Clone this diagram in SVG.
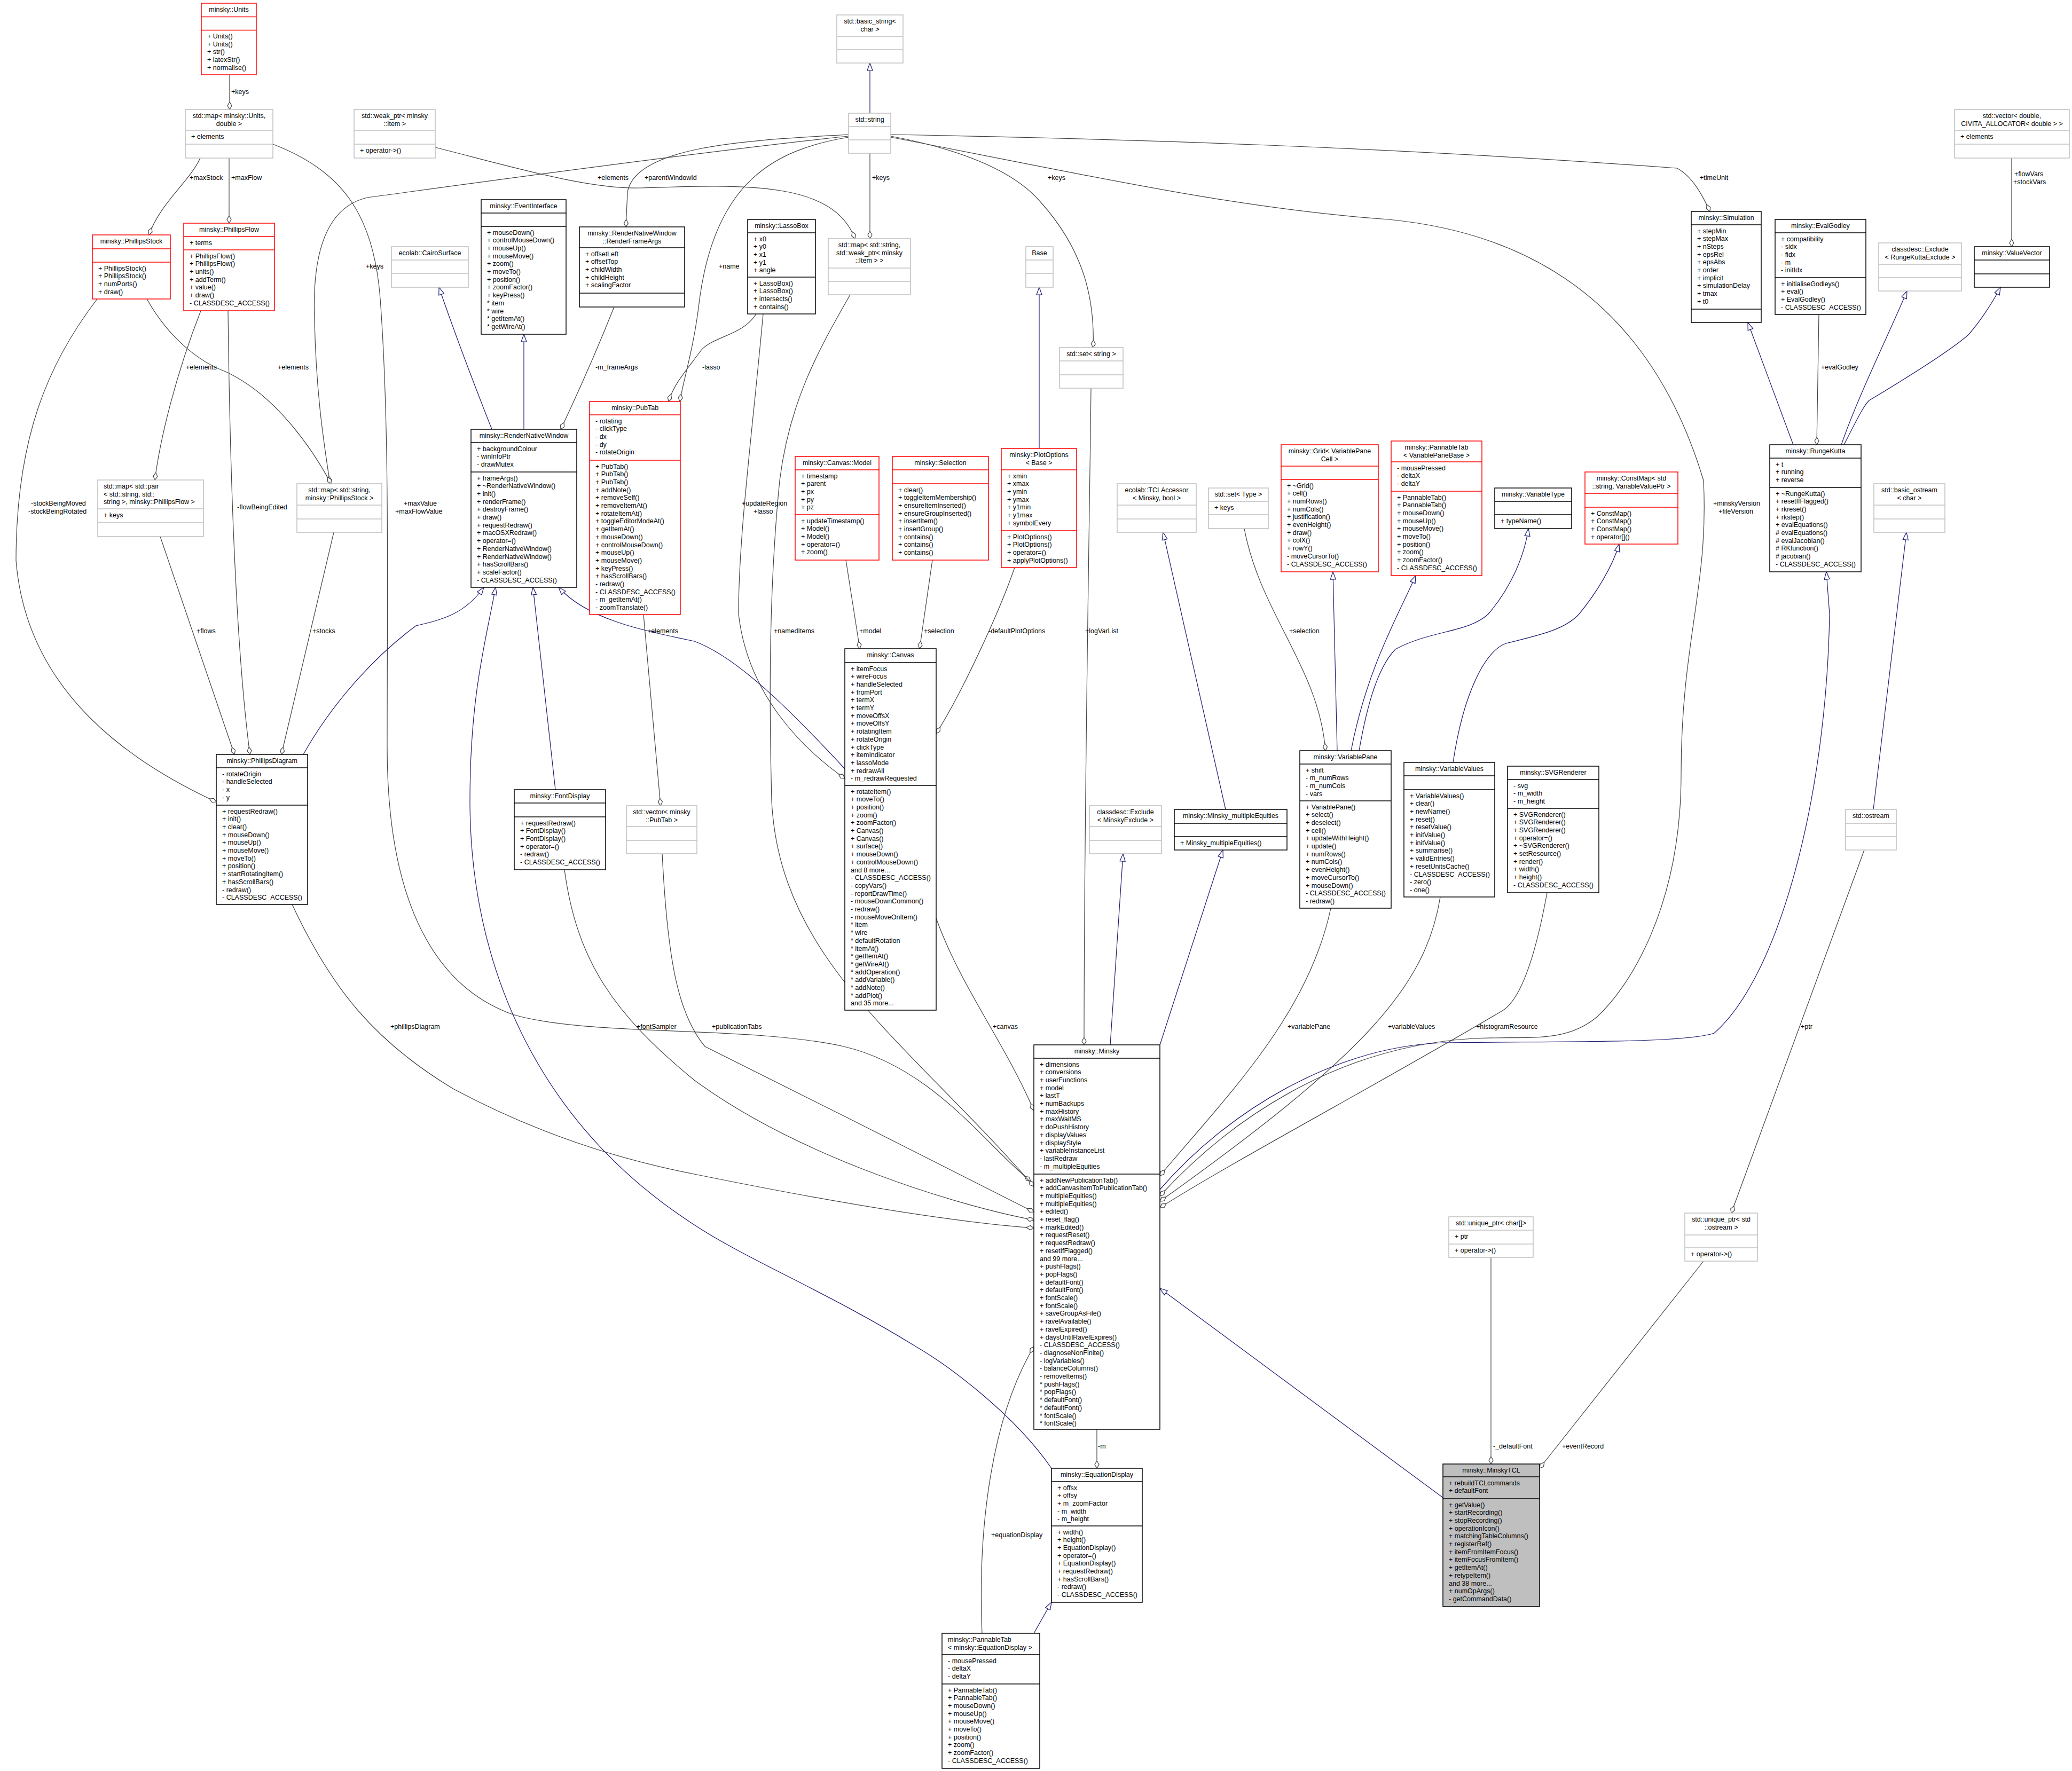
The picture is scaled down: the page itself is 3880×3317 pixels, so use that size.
<svg xmlns="http://www.w3.org/2000/svg" width="3880" height="3317" viewBox="0 0 3880 3317">
<style>
text{font-family:"Liberation Sans",Arial,sans-serif;font-size:12.5px;fill:#000}
.t{text-anchor:middle}
.k rect{fill:#fff;stroke:#000;stroke-width:1.5}
.k line{stroke:#000;stroke-width:1.5}
.r rect,.r line{stroke:#f00}
.g rect,.g line{stroke:#bfbfbf}
.a{fill:none;stroke:#404040;stroke-width:1.2;marker-end:url(#d)}
.i{fill:none;stroke:#191970;stroke-width:1.2;marker-end:url(#t)}
</style>
<defs>
<marker id="d" markerUnits="userSpaceOnUse" markerWidth="16" markerHeight="10" refX="14.5" refY="5" orient="auto"><path d="M0.5,5 L7.5,1 L14.5,5 L7.5,9 z" fill="#fff" stroke="#404040" stroke-width="1.2"/></marker>
<marker id="t" markerUnits="userSpaceOnUse" markerWidth="16" markerHeight="12" refX="15" refY="6" orient="auto"><path d="M1,1 L15,6 L1,11 z" fill="#fff" stroke="#191970" stroke-width="1.2"/></marker>
</defs>
<rect width="3880" height="3317" fill="#fff"/>
<g id="connectors">
<path class="a" d="M430,140 L430,205"/>
<path class="a" d="M375,296 C355,340 300,380 279,440"/>
<path class="a" d="M429,296 L429,418"/>
<path class="a" d="M511,270 C640,320 700,400 712,560 C730,800 725,1100 725,1400 C725,1700 820,1850 960,1900 C1100,1942 1400,1920 1580,1960 C1750,2000 1850,2150 1930,2212"/>
<path class="a" d="M815,276 C950,310 1100,355 1200,352 C1400,345 1560,340 1601,447"/>
<path class="a" d="M1629,287 L1629,447"/>
<path class="a" d="M1589,257 C1450,280 1340,340 1310,560 C1300,650 1280,710 1273,752"/>
<path class="a" d="M1416,588 C1390,630 1330,630 1310,660 C1280,700 1262,720 1252,752"/>
<path class="a" d="M1589,252 C1420,262 1190,270 1175,360 L1172,425"/>
<path class="a" d="M1589,255 C1300,285 800,355 688,370 C600,390 585,500 589,600 C592,750 610,850 618,906"/>
<path class="a" d="M1668,255 C1800,280 1900,320 1950,380 C2030,470 2050,560 2047,651"/>
<path class="a" d="M1668,252 C2100,260 2600,275 3140,315 C3170,330 3190,370 3202,396"/>
<path class="a" d="M1668,257 C2000,320 2300,390 2600,411 C2900,440 3100,600 3190,900 C3200,1100 3148,1200 3148,1450 C3148,1700 3050,1850 2990,1905 C2930,1955 2860,1940 2760,1945 C2500,1960 2300,2100 2172,2240"/>
<path class="a" d="M2043,727 C2040,1000 2030,1500 2030,1957"/>
<path class="a" d="M1429,588 C1410,800 1383,1000 1383,1150 C1400,1300 1500,1400 1582,1458"/>
<path class="a" d="M1592,552 C1530,660 1478,755 1460,900 C1440,1100 1440,1300 1445,1500 C1460,1800 1700,1950 1936,2222"/>
<path class="a" d="M1584,1049 L1610,1215"/>
<path class="a" d="M1746,1049 L1722,1215"/>
<path class="a" d="M1900,1063 C1870,1150 1800,1300 1753,1374"/>
<path class="a" d="M1753,1720 C1800,1850 1880,1950 1936,2080"/>
<path class="a" d="M2330,990 C2360,1150 2470,1250 2482,1406"/>
<path class="a" d="M2492,1701 C2450,1900 2300,2050 2172,2202"/>
<path class="a" d="M2697,1680 C2670,1850 2550,1980 2172,2250"/>
<path class="a" d="M2897,1672 C2870,1820 2840,1880 2810,1895 C2600,2020 2300,2180 2172,2262"/>
<path class="a" d="M3406,589 L3402,833"/>
<path class="a" d="M3767,296 L3767,462"/>
<path class="a" d="M3491,1592 L3242,2272"/>
<path class="a" d="M2792,2355 L2792,2742"/>
<path class="a" d="M3190,2362 L2883,2750"/>
<path class="a" d="M2054,2677 L2054,2750"/>
<path class="a" d="M1839,3059 C1830,2850 1860,2650 1936,2522"/>
<path class="a" d="M547,1694 C620,1850 700,1950 850,2040 C1000,2120 1150,2170 1300,2199 C1600,2260 1800,2290 1936,2300"/>
<path class="a" d="M1057,1629 C1080,1800 1150,1900 1300,2023 C1500,2170 1800,2260 1936,2285"/>
<path class="a" d="M1240,1599 C1250,1800 1270,1900 1320,1960 C1500,2050 1800,2200 1936,2270"/>
<path class="a" d="M1205,1151 L1237,1509"/>
<path class="a" d="M300,1005 L439,1413"/>
<path class="a" d="M625,997 L527,1413"/>
<path class="a" d="M376,582 C330,700 300,820 290,899"/>
<path class="a" d="M275,560 C320,640 380,680 420,695 C520,740 590,850 620,906"/>
<path class="a" d="M182,560 C90,680 30,820 30,1050 C50,1300 250,1430 405,1502"/>
<path class="a" d="M427,582 C430,850 440,1200 468,1413"/>
<path class="a" d="M1150,575 C1120,650 1090,720 1050,804"/>
<path class="i" d="M1629,212 L1629,118"/>
<path class="i" d="M921,804 C880,700 850,620 822,538"/>
<path class="i" d="M981,804 L981,626"/>
<path class="i" d="M568,1413 C620,1320 700,1230 779,1172 C830,1160 870,1150 906,1100"/>
<path class="i" d="M1040,1479 L998,1100"/>
<path class="i" d="M1582,1440 C1480,1330 1380,1230 1300,1201 C1200,1180 1100,1160 1046,1100"/>
<path class="i" d="M1969,2750 C1900,2650 1780,2560 1715,2522 C1550,2420 1400,2360 1300,2294 C1000,2100 880,1800 880,1500 C880,1300 910,1200 928,1100"/>
<path class="i" d="M1946,840 L1946,538"/>
<path class="i" d="M2295,1516 L2178,997"/>
<path class="i" d="M2504,1406 L2496,1071"/>
<path class="i" d="M2530,1406 C2560,1250 2620,1150 2651,1078"/>
<path class="i" d="M2545,1406 C2560,1320 2580,1250 2613,1216 C2680,1180 2750,1185 2787,1150 C2830,1100 2855,1040 2862,990"/>
<path class="i" d="M2721,1428 C2740,1300 2780,1220 2820,1205 C2880,1190 2930,1180 2957,1150 C2990,1110 3020,1060 3032,1019"/>
<path class="i" d="M3358,833 L3273,604"/>
<path class="i" d="M3448,833 C3480,740 3540,620 3571,545"/>
<path class="i" d="M3453,833 C3480,780 3490,760 3500,750 C3600,690 3660,650 3686,627 C3710,600 3735,560 3746,538"/>
<path class="i" d="M2079,1957 L2103,1599"/>
<path class="i" d="M2172,1957 L2290,1592"/>
<path class="i" d="M2172,2228 C2300,2080 2500,1960 2704,1953 C2900,1950 3150,1955 3210,1935 C3330,1830 3420,1500 3426,1150 L3420,1071"/>
<path class="i" d="M3508,1516 L3570,997"/>
<path class="i" d="M2702,2805 L2172,2413"/>
<path class="i" d="M1936,3059 L1969,3001"/>
<text x="433" y="176">+keys</text>
<text x="355" y="337">+maxStock</text>
<text x="433" y="337">+maxFlow</text>
<text x="1119" y="337">+elements</text>
<text x="1207" y="337">+parentWindowId</text>
<text x="685" y="503">+keys</text>
<text x="348" y="692">+elements</text>
<text x="520" y="692">+elements</text>
<text x="1115" y="692">-m_frameArgs</text>
<text x="58" y="947">-stockBeingMoved</text>
<text x="53" y="962">-stockBeingRotated</text>
<text x="444" y="954">-flowBeingEdited</text>
<text x="756" y="947">+maxValue</text>
<text x="740" y="962">+maxFlowValue</text>
<text x="1346" y="503">+name</text>
<text x="1315" y="692">-lasso</text>
<text x="1633" y="337">+keys</text>
<text x="1962" y="337">+keys</text>
<text x="1389" y="947">+updateRegion</text>
<text x="1411" y="962">+lasso</text>
<text x="3183" y="337">+timeUnit</text>
<text x="3772" y="330">+flowVars</text>
<text x="3770" y="345">+stockVars</text>
<text x="3410" y="692">+evalGodley</text>
<text x="3208" y="947">+minskyVersion</text>
<text x="3218" y="962">+fileVersion</text>
<text x="368" y="1186">+flows</text>
<text x="585" y="1186">+stocks</text>
<text x="1212" y="1186">+elements</text>
<text x="731" y="1927">+phillipsDiagram</text>
<text x="1192" y="1927">+fontSampler</text>
<text x="1449" y="1186">+namedItems</text>
<text x="1609" y="1186">+model</text>
<text x="1730" y="1186">+selection</text>
<text x="1851" y="1186">-defaultPlotOptions</text>
<text x="2032" y="1186">+logVarList</text>
<text x="2414" y="1186">+selection</text>
<text x="1333" y="1927">+publicationTabs</text>
<text x="1859" y="1927">+canvas</text>
<text x="2411" y="1927">+variablePane</text>
<text x="2599" y="1927">+variableValues</text>
<text x="2764" y="1927">+histogramResource</text>
<text x="3372" y="1927">+ptr</text>
<text x="2796" y="2713">-_defaultFont</text>
<text x="2925" y="2713">+eventRecord</text>
<text x="2056" y="2713">-m</text>
<text x="1856" y="2879">+equationDisplay</text>
</g>

<g id="units" class="k r"><rect x="377" y="6" width="103" height="134"/><line x1="377" y1="31.5" x2="480" y2="31.5"/><line x1="377" y1="56.5" x2="480" y2="56.5"/>
<text class="t" x="428.5" y="22">minsky::Units</text>
<text x="388" y="72"><tspan x="388">+ Units()</tspan><tspan x="388" dy="14.7">+ Units()</tspan><tspan x="388" dy="14.7">+ str()</tspan><tspan x="388" dy="14.7">+ latexStr()</tspan><tspan x="388" dy="14.7">+ normalise()</tspan></text></g>

<g id="mapUnits" class="k g"><rect x="347" y="205" width="164" height="91"/><line x1="347" y1="244" x2="511" y2="244"/><line x1="347" y1="270" x2="511" y2="270"/>
<text class="t" x="429" y="221"><tspan x="429">std::map&lt; minsky::Units,</tspan><tspan x="429" dy="14.7">double &gt;</tspan></text>
<text x="358" y="259.5">+ elements</text></g>

<g id="weakptr" class="k g"><rect x="663" y="205" width="152" height="91"/><line x1="663" y1="244" x2="815" y2="244"/><line x1="663" y1="270" x2="815" y2="270"/>
<text class="t" x="739" y="221"><tspan x="739">std::weak_ptr&lt; minsky</tspan><tspan x="739" dy="14.7">::Item &gt;</tspan></text>
<text x="674" y="285.5">+ operator-&gt;()</text></g>

<g id="basicstring" class="k g"><rect x="1567" y="28" width="124" height="90"/><line x1="1567" y1="68" x2="1691" y2="68"/><line x1="1567" y1="93" x2="1691" y2="93"/>
<text class="t" x="1629" y="44"><tspan x="1629">std::basic_string&lt;</tspan><tspan x="1629" dy="14.7">char &gt;</tspan></text></g>

<g id="string" class="k g"><rect x="1589" y="212" width="79" height="75"/><line x1="1589" y1="237" x2="1668" y2="237"/><line x1="1589" y1="262" x2="1668" y2="262"/>
<text class="t" x="1628.5" y="228">std::string</text></g>

<g id="vecdouble" class="k g"><rect x="3660" y="205" width="215" height="91"/><line x1="3660" y1="244" x2="3875" y2="244"/><line x1="3660" y1="270" x2="3875" y2="270"/>
<text class="t" x="3767.5" y="221"><tspan x="3767.5">std::vector&lt; double,</tspan><tspan x="3767.5" dy="14.7">CIVITA_ALLOCATOR&lt; double &gt; &gt;</tspan></text>
<text x="3671" y="259.5">+ elements</text></g>

<g id="phillipsStock" class="k r"><rect x="173" y="440" width="146" height="120"/><line x1="173" y1="466" x2="319" y2="466"/><line x1="173" y1="491" x2="319" y2="491"/>
<text class="t" x="246" y="456">minsky::PhillipsStock</text>
<text x="184" y="506.5"><tspan x="184">+ PhillipsStock()</tspan><tspan x="184" dy="14.7">+ PhillipsStock()</tspan><tspan x="184" dy="14.7">+ numPorts()</tspan><tspan x="184" dy="14.7">+ draw()</tspan></text></g>

<g id="phillipsFlow" class="k r"><rect x="344" y="418" width="170" height="164"/><line x1="344" y1="443" x2="514" y2="443"/><line x1="344" y1="468" x2="514" y2="468"/>
<text class="t" x="429" y="434">minsky::PhillipsFlow</text>
<text x="355" y="458.5">+ terms</text>
<text x="355" y="483.5"><tspan x="355">+ PhillipsFlow()</tspan><tspan x="355" dy="14.7">+ PhillipsFlow()</tspan><tspan x="355" dy="14.7">+ units()</tspan><tspan x="355" dy="14.7">+ addTerm()</tspan><tspan x="355" dy="14.7">+ value()</tspan><tspan x="355" dy="14.7">+ draw()</tspan><tspan x="355" dy="14.7">- CLASSDESC_ACCESS()</tspan></text></g>

<g id="cairoSurface" class="k g"><rect x="733" y="462" width="144" height="76"/><line x1="733" y1="487" x2="877" y2="487"/><line x1="733" y1="512" x2="877" y2="512"/>
<text class="t" x="805" y="478">ecolab::CairoSurface</text></g>

<g id="eventInterface" class="k"><rect x="901" y="374" width="159" height="252"/><line x1="901" y1="399" x2="1060" y2="399"/><line x1="901" y1="424" x2="1060" y2="424"/>
<text class="t" x="980.5" y="390">minsky::EventInterface</text>
<text x="912" y="439.5"><tspan x="912">+ mouseDown()</tspan><tspan x="912" dy="14.7">+ controlMouseDown()</tspan><tspan x="912" dy="14.7">+ mouseUp()</tspan><tspan x="912" dy="14.7">+ mouseMove()</tspan><tspan x="912" dy="14.7">+ zoom()</tspan><tspan x="912" dy="14.7">+ moveTo()</tspan><tspan x="912" dy="14.7">+ position()</tspan><tspan x="912" dy="14.7">+ zoomFactor()</tspan><tspan x="912" dy="14.7">+ keyPress()</tspan><tspan x="912" dy="14.7">* item</tspan><tspan x="912" dy="14.7">* wire</tspan><tspan x="912" dy="14.7">* getItemAt()</tspan><tspan x="912" dy="14.7">* getWireAt()</tspan></text></g>

<g id="renderFrameArgs" class="k"><rect x="1085" y="425" width="197" height="150"/><line x1="1085" y1="464" x2="1282" y2="464"/><line x1="1085" y1="549" x2="1282" y2="549"/>
<text class="t" x="1183.5" y="441"><tspan x="1183.5">minsky::RenderNativeWindow</tspan><tspan x="1183.5" dy="14.7">::RenderFrameArgs</tspan></text>
<text x="1096" y="479.5"><tspan x="1096">+ offsetLeft</tspan><tspan x="1096" dy="14.7">+ offsetTop</tspan><tspan x="1096" dy="14.7">+ childWidth</tspan><tspan x="1096" dy="14.7">+ childHeight</tspan><tspan x="1096" dy="14.7">+ scalingFactor</tspan></text></g>

<g id="lassoBox" class="k"><rect x="1400" y="411" width="127" height="177"/><line x1="1400" y1="436" x2="1527" y2="436"/><line x1="1400" y1="519" x2="1527" y2="519"/>
<text class="t" x="1463.5" y="427">minsky::LassoBox</text>
<text x="1411" y="451.5"><tspan x="1411">+ x0</tspan><tspan x="1411" dy="14.7">+ y0</tspan><tspan x="1411" dy="14.7">+ x1</tspan><tspan x="1411" dy="14.7">+ y1</tspan><tspan x="1411" dy="14.7">+ angle</tspan></text>
<text x="1411" y="534.5"><tspan x="1411">+ LassoBox()</tspan><tspan x="1411" dy="14.7">+ LassoBox()</tspan><tspan x="1411" dy="14.7">+ intersects()</tspan><tspan x="1411" dy="14.7">+ contains()</tspan></text></g>

<g id="mapWeak" class="k g"><rect x="1551" y="447" width="154" height="105"/><line x1="1551" y1="502" x2="1705" y2="502"/><line x1="1551" y1="527" x2="1705" y2="527"/>
<text class="t" x="1628" y="463"><tspan x="1628">std::map&lt; std::string,</tspan><tspan x="1628" dy="14.7">std::weak_ptr&lt; minsky</tspan><tspan x="1628" dy="14.7">::Item &gt; &gt;</tspan></text></g>

<g id="base" class="k g"><rect x="1921" y="462" width="51" height="76"/><line x1="1921" y1="487" x2="1972" y2="487"/><line x1="1921" y1="512" x2="1972" y2="512"/>
<text class="t" x="1946.5" y="478">Base</text></g>

<g id="setString" class="k g"><rect x="1984" y="651" width="119" height="76"/><line x1="1984" y1="676" x2="2103" y2="676"/><line x1="1984" y1="702" x2="2103" y2="702"/>
<text class="t" x="2043.5" y="667">std::set&lt; string &gt;</text></g>

<g id="simulation" class="k"><rect x="3167" y="396" width="131" height="208"/><line x1="3167" y1="421" x2="3298" y2="421"/><line x1="3167" y1="579" x2="3298" y2="579"/>
<text class="t" x="3232.5" y="412">minsky::Simulation</text>
<text x="3178" y="436.5"><tspan x="3178">+ stepMin</tspan><tspan x="3178" dy="14.7">+ stepMax</tspan><tspan x="3178" dy="14.7">+ nSteps</tspan><tspan x="3178" dy="14.7">+ epsRel</tspan><tspan x="3178" dy="14.7">+ epsAbs</tspan><tspan x="3178" dy="14.7">+ order</tspan><tspan x="3178" dy="14.7">+ implicit</tspan><tspan x="3178" dy="14.7">+ simulationDelay</tspan><tspan x="3178" dy="14.7">+ tmax</tspan><tspan x="3178" dy="14.7">+ t0</tspan></text></g>

<g id="evalGodley" class="k"><rect x="3324" y="411" width="170" height="178"/><line x1="3324" y1="436" x2="3494" y2="436"/><line x1="3324" y1="520" x2="3494" y2="520"/>
<text class="t" x="3409" y="427">minsky::EvalGodley</text>
<text x="3335" y="451.5"><tspan x="3335">+ compatibility</tspan><tspan x="3335" dy="14.7">- sidx</tspan><tspan x="3335" dy="14.7">- fidx</tspan><tspan x="3335" dy="14.7">- m</tspan><tspan x="3335" dy="14.7">- initIdx</tspan></text>
<text x="3335" y="535.5"><tspan x="3335">+ initialiseGodleys()</tspan><tspan x="3335" dy="14.7">+ eval()</tspan><tspan x="3335" dy="14.7">+ EvalGodley()</tspan><tspan x="3335" dy="14.7">- CLASSDESC_ACCESS()</tspan></text></g>

<g id="excludeRK" class="k g"><rect x="3518" y="455" width="155" height="90"/><line x1="3518" y1="495" x2="3673" y2="495"/><line x1="3518" y1="520" x2="3673" y2="520"/>
<text class="t" x="3595.5" y="471"><tspan x="3595.5">classdesc::Exclude</tspan><tspan x="3595.5" dy="14.7">&lt; RungeKuttaExclude &gt;</tspan></text></g>

<g id="valueVector" class="k"><rect x="3697" y="462" width="141" height="76"/><line x1="3697" y1="487" x2="3838" y2="487"/><line x1="3697" y1="513" x2="3838" y2="513"/>
<text class="t" x="3767.5" y="478">minsky::ValueVector</text></g>

<g id="renderNativeWindow" class="k"><rect x="882" y="804" width="198" height="296"/><line x1="882" y1="829" x2="1080" y2="829"/><line x1="882" y1="884" x2="1080" y2="884"/>
<text class="t" x="981" y="820">minsky::RenderNativeWindow</text>
<text x="893" y="844.5"><tspan x="893">+ backgroundColour</tspan><tspan x="893" dy="14.7">- winInfoPtr</tspan><tspan x="893" dy="14.7">- drawMutex</tspan></text>
<text x="893" y="899.5"><tspan x="893">+ frameArgs()</tspan><tspan x="893" dy="14.7">+ ~RenderNativeWindow()</tspan><tspan x="893" dy="14.7">+ init()</tspan><tspan x="893" dy="14.7">+ renderFrame()</tspan><tspan x="893" dy="14.7">+ destroyFrame()</tspan><tspan x="893" dy="14.7">+ draw()</tspan><tspan x="893" dy="14.7">+ requestRedraw()</tspan><tspan x="893" dy="14.7">+ macOSXRedraw()</tspan><tspan x="893" dy="14.7">+ operator=()</tspan><tspan x="893" dy="14.7">+ RenderNativeWindow()</tspan><tspan x="893" dy="14.7">+ RenderNativeWindow()</tspan><tspan x="893" dy="14.7">+ hasScrollBars()</tspan><tspan x="893" dy="14.7">+ scaleFactor()</tspan><tspan x="893" dy="14.7">- CLASSDESC_ACCESS()</tspan></text></g>

<g id="pubTab" class="k r"><rect x="1104" y="752" width="170" height="399"/><line x1="1104" y1="777" x2="1274" y2="777"/><line x1="1104" y1="862" x2="1274" y2="862"/>
<text class="t" x="1189" y="768">minsky::PubTab</text>
<text x="1115" y="792.5"><tspan x="1115">- rotating</tspan><tspan x="1115" dy="14.7">- clickType</tspan><tspan x="1115" dy="14.7">- dx</tspan><tspan x="1115" dy="14.7">- dy</tspan><tspan x="1115" dy="14.7">- rotateOrigin</tspan></text>
<text x="1115" y="877.5"><tspan x="1115">+ PubTab()</tspan><tspan x="1115" dy="14.7">+ PubTab()</tspan><tspan x="1115" dy="14.7">+ PubTab()</tspan><tspan x="1115" dy="14.7">+ addNote()</tspan><tspan x="1115" dy="14.7">+ removeSelf()</tspan><tspan x="1115" dy="14.7">+ removeItemAt()</tspan><tspan x="1115" dy="14.7">+ rotateItemAt()</tspan><tspan x="1115" dy="14.7">+ toggleEditorModeAt()</tspan><tspan x="1115" dy="14.7">+ getItemAt()</tspan><tspan x="1115" dy="14.7">+ mouseDown()</tspan><tspan x="1115" dy="14.7">+ controlMouseDown()</tspan><tspan x="1115" dy="14.7">+ mouseUp()</tspan><tspan x="1115" dy="14.7">+ mouseMove()</tspan><tspan x="1115" dy="14.7">+ keyPress()</tspan><tspan x="1115" dy="14.7">+ hasScrollBars()</tspan><tspan x="1115" dy="14.7">- redraw()</tspan><tspan x="1115" dy="14.7">- CLASSDESC_ACCESS()</tspan><tspan x="1115" dy="14.7">- m_getItemAt()</tspan><tspan x="1115" dy="14.7">- zoomTranslate()</tspan></text></g>

<g id="canvasModel" class="k r"><rect x="1489" y="855" width="157" height="194"/><line x1="1489" y1="880" x2="1646" y2="880"/><line x1="1489" y1="964" x2="1646" y2="964"/>
<text class="t" x="1567.5" y="871">minsky::Canvas::Model</text>
<text x="1500" y="895.5"><tspan x="1500">+ timestamp</tspan><tspan x="1500" dy="14.7">+ parent</tspan><tspan x="1500" dy="14.7">+ px</tspan><tspan x="1500" dy="14.7">+ py</tspan><tspan x="1500" dy="14.7">+ pz</tspan></text>
<text x="1500" y="979.5"><tspan x="1500">+ updateTimestamp()</tspan><tspan x="1500" dy="14.7">+ Model()</tspan><tspan x="1500" dy="14.7">+ Model()</tspan><tspan x="1500" dy="14.7">+ operator=()</tspan><tspan x="1500" dy="14.7">+ zoom()</tspan></text></g>

<g id="selection" class="k r"><rect x="1671" y="855" width="180" height="194"/><line x1="1671" y1="880" x2="1851" y2="880"/><line x1="1671" y1="906" x2="1851" y2="906"/>
<text class="t" x="1761" y="871">minsky::Selection</text>
<text x="1682" y="921.5"><tspan x="1682">+ clear()</tspan><tspan x="1682" dy="14.7">+ toggleItemMembership()</tspan><tspan x="1682" dy="14.7">+ ensureItemInserted()</tspan><tspan x="1682" dy="14.7">+ ensureGroupInserted()</tspan><tspan x="1682" dy="14.7">+ insertItem()</tspan><tspan x="1682" dy="14.7">+ insertGroup()</tspan><tspan x="1682" dy="14.7">+ contains()</tspan><tspan x="1682" dy="14.7">+ contains()</tspan><tspan x="1682" dy="14.7">+ contains()</tspan></text></g>

<g id="plotOptions" class="k r"><rect x="1875" y="840" width="141" height="223"/><line x1="1875" y1="880" x2="2016" y2="880"/><line x1="1875" y1="994" x2="2016" y2="994"/>
<text class="t" x="1945.5" y="856"><tspan x="1945.5">minsky::PlotOptions</tspan><tspan x="1945.5" dy="14.7">&lt; Base &gt;</tspan></text>
<text x="1886" y="895.5"><tspan x="1886">+ xmin</tspan><tspan x="1886" dy="14.7">+ xmax</tspan><tspan x="1886" dy="14.7">+ ymin</tspan><tspan x="1886" dy="14.7">+ ymax</tspan><tspan x="1886" dy="14.7">+ y1min</tspan><tspan x="1886" dy="14.7">+ y1max</tspan><tspan x="1886" dy="14.7">+ symbolEvery</tspan></text>
<text x="1886" y="1009.5"><tspan x="1886">+ PlotOptions()</tspan><tspan x="1886" dy="14.7">+ PlotOptions()</tspan><tspan x="1886" dy="14.7">+ operator=()</tspan><tspan x="1886" dy="14.7">+ applyPlotOptions()</tspan></text></g>

<g id="tclAccessor" class="k g"><rect x="2092" y="906" width="148" height="91"/><line x1="2092" y1="946" x2="2240" y2="946"/><line x1="2092" y1="972" x2="2240" y2="972"/>
<text class="t" x="2166" y="922"><tspan x="2166">ecolab::TCLAccessor</tspan><tspan x="2166" dy="14.7">&lt; Minsky, bool &gt;</tspan></text></g>

<g id="setType" class="k g"><rect x="2263" y="914" width="112" height="76"/><line x1="2263" y1="939" x2="2375" y2="939"/><line x1="2263" y1="964" x2="2375" y2="964"/>
<text class="t" x="2319" y="930">std::set&lt; Type &gt;</text>
<text x="2274" y="954.5">+ keys</text></g>

<g id="grid" class="k r"><rect x="2399" y="833" width="182" height="238"/><line x1="2399" y1="873" x2="2581" y2="873"/><line x1="2399" y1="898" x2="2581" y2="898"/>
<text class="t" x="2490" y="849"><tspan x="2490">minsky::Grid&lt; VariablePane</tspan><tspan x="2490" dy="14.7">Cell &gt;</tspan></text>
<text x="2410" y="913.5"><tspan x="2410">+ ~Grid()</tspan><tspan x="2410" dy="14.7">+ cell()</tspan><tspan x="2410" dy="14.7">+ numRows()</tspan><tspan x="2410" dy="14.7">+ numCols()</tspan><tspan x="2410" dy="14.7">+ justification()</tspan><tspan x="2410" dy="14.7">+ evenHeight()</tspan><tspan x="2410" dy="14.7">+ draw()</tspan><tspan x="2410" dy="14.7">+ colX()</tspan><tspan x="2410" dy="14.7">+ rowY()</tspan><tspan x="2410" dy="14.7">- moveCursorTo()</tspan><tspan x="2410" dy="14.7">- CLASSDESC_ACCESS()</tspan></text></g>

<g id="pannableTabVPB" class="k r"><rect x="2605" y="826" width="170" height="252"/><line x1="2605" y1="865" x2="2775" y2="865"/><line x1="2605" y1="920" x2="2775" y2="920"/>
<text class="t" x="2690" y="842"><tspan x="2690">minsky::PannableTab</tspan><tspan x="2690" dy="14.7">&lt; VariablePaneBase &gt;</tspan></text>
<text x="2616" y="880.5"><tspan x="2616">- mousePressed</tspan><tspan x="2616" dy="14.7">- deltaX</tspan><tspan x="2616" dy="14.7">- deltaY</tspan></text>
<text x="2616" y="935.5"><tspan x="2616">+ PannableTab()</tspan><tspan x="2616" dy="14.7">+ PannableTab()</tspan><tspan x="2616" dy="14.7">+ mouseDown()</tspan><tspan x="2616" dy="14.7">+ mouseUp()</tspan><tspan x="2616" dy="14.7">+ mouseMove()</tspan><tspan x="2616" dy="14.7">+ moveTo()</tspan><tspan x="2616" dy="14.7">+ position()</tspan><tspan x="2616" dy="14.7">+ zoom()</tspan><tspan x="2616" dy="14.7">+ zoomFactor()</tspan><tspan x="2616" dy="14.7">- CLASSDESC_ACCESS()</tspan></text></g>

<g id="variableType" class="k"><rect x="2799" y="914" width="144" height="76"/><line x1="2799" y1="939" x2="2943" y2="939"/><line x1="2799" y1="964" x2="2943" y2="964"/>
<text class="t" x="2871" y="930">minsky::VariableType</text>
<text x="2810" y="979.5">+ typeName()</text></g>

<g id="constMap" class="k r"><rect x="2968" y="884" width="174" height="135"/><line x1="2968" y1="924" x2="3142" y2="924"/><line x1="2968" y1="950" x2="3142" y2="950"/>
<text class="t" x="3055" y="900"><tspan x="3055">minsky::ConstMap&lt; std</tspan><tspan x="3055" dy="14.7">::string, VariableValuePtr &gt;</tspan></text>
<text x="2979" y="965.5"><tspan x="2979">+ ConstMap()</tspan><tspan x="2979" dy="14.7">+ ConstMap()</tspan><tspan x="2979" dy="14.7">+ ConstMap()</tspan><tspan x="2979" dy="14.7">+ operator[]()</tspan></text></g>

<g id="rungeKutta" class="k"><rect x="3314" y="833" width="171" height="238"/><line x1="3314" y1="858" x2="3485" y2="858"/><line x1="3314" y1="913" x2="3485" y2="913"/>
<text class="t" x="3399.5" y="849">minsky::RungeKutta</text>
<text x="3325" y="873.5"><tspan x="3325">+ t</tspan><tspan x="3325" dy="14.7">+ running</tspan><tspan x="3325" dy="14.7">+ reverse</tspan></text>
<text x="3325" y="928.5"><tspan x="3325">+ ~RungeKutta()</tspan><tspan x="3325" dy="14.7">+ resetIfFlagged()</tspan><tspan x="3325" dy="14.7">+ rkreset()</tspan><tspan x="3325" dy="14.7">+ rkstep()</tspan><tspan x="3325" dy="14.7">+ evalEquations()</tspan><tspan x="3325" dy="14.7"># evalEquations()</tspan><tspan x="3325" dy="14.7"># evalJacobian()</tspan><tspan x="3325" dy="14.7"># RKfunction()</tspan><tspan x="3325" dy="14.7"># jacobian()</tspan><tspan x="3325" dy="14.7">- CLASSDESC_ACCESS()</tspan></text></g>

<g id="basicOstream" class="k g"><rect x="3509" y="906" width="133" height="91"/><line x1="3509" y1="946" x2="3642" y2="946"/><line x1="3509" y1="972" x2="3642" y2="972"/>
<text class="t" x="3575.5" y="922"><tspan x="3575.5">std::basic_ostream</tspan><tspan x="3575.5" dy="14.7">&lt; char &gt;</tspan></text></g>

<g id="mapPair" class="k g"><rect x="183" y="899" width="198" height="106"/><line x1="183" y1="953" x2="381" y2="953"/><line x1="183" y1="979" x2="381" y2="979"/>
<text x="194" y="915"><tspan x="194">std::map&lt; std::pair</tspan><tspan x="194" dy="14.7">&lt; std::string, std::</tspan><tspan x="194" dy="14.7">string &gt;, minsky::PhillipsFlow &gt;</tspan></text>
<text x="194" y="968.5">+ keys</text></g>

<g id="mapStock" class="k g"><rect x="556" y="906" width="159" height="91"/><line x1="556" y1="946" x2="715" y2="946"/><line x1="556" y1="972" x2="715" y2="972"/>
<text class="t" x="635.5" y="922"><tspan x="635.5">std::map&lt; std::string,</tspan><tspan x="635.5" dy="14.7">minsky::PhillipsStock &gt;</tspan></text></g>

<g id="canvas" class="k"><rect x="1582" y="1215" width="171" height="677"/><line x1="1582" y1="1241" x2="1753" y2="1241"/><line x1="1582" y1="1471" x2="1753" y2="1471"/>
<text class="t" x="1667.5" y="1231">minsky::Canvas</text>
<text x="1593" y="1256.5"><tspan x="1593">+ itemFocus</tspan><tspan x="1593" dy="14.7">+ wireFocus</tspan><tspan x="1593" dy="14.7">+ handleSelected</tspan><tspan x="1593" dy="14.7">+ fromPort</tspan><tspan x="1593" dy="14.7">+ termX</tspan><tspan x="1593" dy="14.7">+ termY</tspan><tspan x="1593" dy="14.7">+ moveOffsX</tspan><tspan x="1593" dy="14.7">+ moveOffsY</tspan><tspan x="1593" dy="14.7">+ rotatingItem</tspan><tspan x="1593" dy="14.7">+ rotateOrigin</tspan><tspan x="1593" dy="14.7">+ clickType</tspan><tspan x="1593" dy="14.7">+ itemIndicator</tspan><tspan x="1593" dy="14.7">+ lassoMode</tspan><tspan x="1593" dy="14.7">+ redrawAll</tspan><tspan x="1593" dy="14.7">- m_redrawRequested</tspan></text>
<text x="1593" y="1486.5"><tspan x="1593">+ rotateItem()</tspan><tspan x="1593" dy="14.7">+ moveTo()</tspan><tspan x="1593" dy="14.7">+ position()</tspan><tspan x="1593" dy="14.7">+ zoom()</tspan><tspan x="1593" dy="14.7">+ zoomFactor()</tspan><tspan x="1593" dy="14.7">+ Canvas()</tspan><tspan x="1593" dy="14.7">+ Canvas()</tspan><tspan x="1593" dy="14.7">+ surface()</tspan><tspan x="1593" dy="14.7">+ mouseDown()</tspan><tspan x="1593" dy="14.7">+ controlMouseDown()</tspan><tspan x="1593" dy="14.7">and 8 more...</tspan><tspan x="1593" dy="14.7">- CLASSDESC_ACCESS()</tspan><tspan x="1593" dy="14.7">- copyVars()</tspan><tspan x="1593" dy="14.7">- reportDrawTime()</tspan><tspan x="1593" dy="14.7">- mouseDownCommon()</tspan><tspan x="1593" dy="14.7">- redraw()</tspan><tspan x="1593" dy="14.7">- mouseMoveOnItem()</tspan><tspan x="1593" dy="14.7">* item</tspan><tspan x="1593" dy="14.7">* wire</tspan><tspan x="1593" dy="14.7">* defaultRotation</tspan><tspan x="1593" dy="14.7">* itemAt()</tspan><tspan x="1593" dy="14.7">* getItemAt()</tspan><tspan x="1593" dy="14.7">* getWireAt()</tspan><tspan x="1593" dy="14.7">* addOperation()</tspan><tspan x="1593" dy="14.7">* addVariable()</tspan><tspan x="1593" dy="14.7">* addNote()</tspan><tspan x="1593" dy="14.7">* addPlot()</tspan><tspan x="1593" dy="14.7">and 35 more...</tspan></text></g>

<g id="phillipsDiagram" class="k"><rect x="405" y="1413" width="171" height="281"/><line x1="405" y1="1438" x2="576" y2="1438"/><line x1="405" y1="1508" x2="576" y2="1508"/>
<text class="t" x="490.5" y="1429">minsky::PhillipsDiagram</text>
<text x="416" y="1453.5"><tspan x="416">- rotateOrigin</tspan><tspan x="416" dy="14.7">- handleSelected</tspan><tspan x="416" dy="14.7">- x</tspan><tspan x="416" dy="14.7">- y</tspan></text>
<text x="416" y="1523.5"><tspan x="416">+ requestRedraw()</tspan><tspan x="416" dy="14.7">+ init()</tspan><tspan x="416" dy="14.7">+ clear()</tspan><tspan x="416" dy="14.7">+ mouseDown()</tspan><tspan x="416" dy="14.7">+ mouseUp()</tspan><tspan x="416" dy="14.7">+ mouseMove()</tspan><tspan x="416" dy="14.7">+ moveTo()</tspan><tspan x="416" dy="14.7">+ position()</tspan><tspan x="416" dy="14.7">+ startRotatingItem()</tspan><tspan x="416" dy="14.7">+ hasScrollBars()</tspan><tspan x="416" dy="14.7">- redraw()</tspan><tspan x="416" dy="14.7">- CLASSDESC_ACCESS()</tspan></text></g>

<g id="fontDisplay" class="k"><rect x="963" y="1479" width="171" height="150"/><line x1="963" y1="1504" x2="1134" y2="1504"/><line x1="963" y1="1530" x2="1134" y2="1530"/>
<text class="t" x="1048.5" y="1495">minsky::FontDisplay</text>
<text x="974" y="1545.5"><tspan x="974">+ requestRedraw()</tspan><tspan x="974" dy="14.7">+ FontDisplay()</tspan><tspan x="974" dy="14.7">+ FontDisplay()</tspan><tspan x="974" dy="14.7">+ operator=()</tspan><tspan x="974" dy="14.7">- redraw()</tspan><tspan x="974" dy="14.7">- CLASSDESC_ACCESS()</tspan></text></g>

<g id="vecPubTab" class="k g"><rect x="1173" y="1509" width="132" height="90"/><line x1="1173" y1="1548" x2="1305" y2="1548"/><line x1="1173" y1="1574" x2="1305" y2="1574"/>
<text class="t" x="1239" y="1525"><tspan x="1239">std::vector&lt; minsky</tspan><tspan x="1239" dy="14.7">::PubTab &gt;</tspan></text></g>

<g id="excludeMinsky" class="k g"><rect x="2040" y="1509" width="135" height="90"/><line x1="2040" y1="1548" x2="2175" y2="1548"/><line x1="2040" y1="1574" x2="2175" y2="1574"/>
<text class="t" x="2107.5" y="1525"><tspan x="2107.5">classdesc::Exclude</tspan><tspan x="2107.5" dy="14.7">&lt; MinskyExclude &gt;</tspan></text></g>

<g id="multipleEquities" class="k"><rect x="2199" y="1516" width="211" height="76"/><line x1="2199" y1="1542" x2="2410" y2="1542"/><line x1="2199" y1="1567" x2="2410" y2="1567"/>
<text class="t" x="2304.5" y="1532">minsky::Minsky_multipleEquities</text>
<text x="2210" y="1582.5">+ Minsky_multipleEquities()</text></g>

<g id="variablePane" class="k"><rect x="2434" y="1406" width="171" height="295"/><line x1="2434" y1="1431" x2="2605" y2="1431"/><line x1="2434" y1="1500" x2="2605" y2="1500"/>
<text class="t" x="2519.5" y="1422">minsky::VariablePane</text>
<text x="2445" y="1446.5"><tspan x="2445">+ shift</tspan><tspan x="2445" dy="14.7">- m_numRows</tspan><tspan x="2445" dy="14.7">- m_numCols</tspan><tspan x="2445" dy="14.7">- vars</tspan></text>
<text x="2445" y="1515.5"><tspan x="2445">+ VariablePane()</tspan><tspan x="2445" dy="14.7">+ select()</tspan><tspan x="2445" dy="14.7">+ deselect()</tspan><tspan x="2445" dy="14.7">+ cell()</tspan><tspan x="2445" dy="14.7">+ updateWithHeight()</tspan><tspan x="2445" dy="14.7">+ update()</tspan><tspan x="2445" dy="14.7">+ numRows()</tspan><tspan x="2445" dy="14.7">+ numCols()</tspan><tspan x="2445" dy="14.7">+ evenHeight()</tspan><tspan x="2445" dy="14.7">+ moveCursorTo()</tspan><tspan x="2445" dy="14.7">+ mouseDown()</tspan><tspan x="2445" dy="14.7">- CLASSDESC_ACCESS()</tspan><tspan x="2445" dy="14.7">- redraw()</tspan></text></g>

<g id="variableValues" class="k"><rect x="2629" y="1428" width="170" height="252"/><line x1="2629" y1="1453" x2="2799" y2="1453"/><line x1="2629" y1="1479" x2="2799" y2="1479"/>
<text class="t" x="2714" y="1444">minsky::VariableValues</text>
<text x="2640" y="1494.5"><tspan x="2640">+ VariableValues()</tspan><tspan x="2640" dy="14.7">+ clear()</tspan><tspan x="2640" dy="14.7">+ newName()</tspan><tspan x="2640" dy="14.7">+ reset()</tspan><tspan x="2640" dy="14.7">+ resetValue()</tspan><tspan x="2640" dy="14.7">+ initValue()</tspan><tspan x="2640" dy="14.7">+ initValue()</tspan><tspan x="2640" dy="14.7">+ summarise()</tspan><tspan x="2640" dy="14.7">+ validEntries()</tspan><tspan x="2640" dy="14.7">+ resetUnitsCache()</tspan><tspan x="2640" dy="14.7">- CLASSDESC_ACCESS()</tspan><tspan x="2640" dy="14.7">- zero()</tspan><tspan x="2640" dy="14.7">- one()</tspan></text></g>

<g id="svgRenderer" class="k"><rect x="2823" y="1435" width="171" height="237"/><line x1="2823" y1="1460" x2="2994" y2="1460"/><line x1="2823" y1="1514" x2="2994" y2="1514"/>
<text class="t" x="2908.5" y="1451">minsky::SVGRenderer</text>
<text x="2834" y="1475.5"><tspan x="2834">- svg</tspan><tspan x="2834" dy="14.7">- m_width</tspan><tspan x="2834" dy="14.7">- m_height</tspan></text>
<text x="2834" y="1529.5"><tspan x="2834">+ SVGRenderer()</tspan><tspan x="2834" dy="14.7">+ SVGRenderer()</tspan><tspan x="2834" dy="14.7">+ SVGRenderer()</tspan><tspan x="2834" dy="14.7">+ operator=()</tspan><tspan x="2834" dy="14.7">+ ~SVGRenderer()</tspan><tspan x="2834" dy="14.7">+ setResource()</tspan><tspan x="2834" dy="14.7">+ render()</tspan><tspan x="2834" dy="14.7">+ width()</tspan><tspan x="2834" dy="14.7">+ height()</tspan><tspan x="2834" dy="14.7">- CLASSDESC_ACCESS()</tspan></text></g>

<g id="ostream" class="k g"><rect x="3456" y="1516" width="95" height="76"/><line x1="3456" y1="1542" x2="3551" y2="1542"/><line x1="3456" y1="1567" x2="3551" y2="1567"/>
<text class="t" x="3503.5" y="1532">std::ostream</text></g>

<g id="minsky" class="k"><rect x="1936" y="1957" width="236" height="720"/><line x1="1936" y1="1982" x2="2172" y2="1982"/><line x1="1936" y1="2199" x2="2172" y2="2199"/>
<text class="t" x="2054" y="1973">minsky::Minsky</text>
<text x="1947" y="1997.5"><tspan x="1947">+ dimensions</tspan><tspan x="1947" dy="14.7">+ conversions</tspan><tspan x="1947" dy="14.7">+ userFunctions</tspan><tspan x="1947" dy="14.7">+ model</tspan><tspan x="1947" dy="14.7">+ lastT</tspan><tspan x="1947" dy="14.7">+ numBackups</tspan><tspan x="1947" dy="14.7">+ maxHistory</tspan><tspan x="1947" dy="14.7">+ maxWaitMS</tspan><tspan x="1947" dy="14.7">+ doPushHistory</tspan><tspan x="1947" dy="14.7">+ displayValues</tspan><tspan x="1947" dy="14.7">+ displayStyle</tspan><tspan x="1947" dy="14.7">+ variableInstanceList</tspan><tspan x="1947" dy="14.7">- lastRedraw</tspan><tspan x="1947" dy="14.7">- m_multipleEquities</tspan></text>
<text x="1947" y="2214.5"><tspan x="1947">+ addNewPublicationTab()</tspan><tspan x="1947" dy="14.7">+ addCanvasItemToPublicationTab()</tspan><tspan x="1947" dy="14.7">+ multipleEquities()</tspan><tspan x="1947" dy="14.7">+ multipleEquities()</tspan><tspan x="1947" dy="14.7">+ edited()</tspan><tspan x="1947" dy="14.7">+ reset_flag()</tspan><tspan x="1947" dy="14.7">+ markEdited()</tspan><tspan x="1947" dy="14.7">+ requestReset()</tspan><tspan x="1947" dy="14.7">+ requestRedraw()</tspan><tspan x="1947" dy="14.7">+ resetIfFlagged()</tspan><tspan x="1947" dy="14.7">and 99 more...</tspan><tspan x="1947" dy="14.7">+ pushFlags()</tspan><tspan x="1947" dy="14.7">+ popFlags()</tspan><tspan x="1947" dy="14.7">+ defaultFont()</tspan><tspan x="1947" dy="14.7">+ defaultFont()</tspan><tspan x="1947" dy="14.7">+ fontScale()</tspan><tspan x="1947" dy="14.7">+ fontScale()</tspan><tspan x="1947" dy="14.7">+ saveGroupAsFile()</tspan><tspan x="1947" dy="14.7">+ ravelAvailable()</tspan><tspan x="1947" dy="14.7">+ ravelExpired()</tspan><tspan x="1947" dy="14.7">+ daysUntilRavelExpires()</tspan><tspan x="1947" dy="14.7">- CLASSDESC_ACCESS()</tspan><tspan x="1947" dy="14.7">- diagnoseNonFinite()</tspan><tspan x="1947" dy="14.7">- logVariables()</tspan><tspan x="1947" dy="14.7">- balanceColumns()</tspan><tspan x="1947" dy="14.7">- removeItems()</tspan><tspan x="1947" dy="14.7">* pushFlags()</tspan><tspan x="1947" dy="14.7">* popFlags()</tspan><tspan x="1947" dy="14.7">* defaultFont()</tspan><tspan x="1947" dy="14.7">* defaultFont()</tspan><tspan x="1947" dy="14.7">* fontScale()</tspan><tspan x="1947" dy="14.7">* fontScale()</tspan></text></g>

<g id="uniqueChar" class="k g"><rect x="2713" y="2279" width="158" height="76"/><line x1="2713" y1="2304" x2="2871" y2="2304"/><line x1="2713" y1="2330" x2="2871" y2="2330"/>
<text class="t" x="2792" y="2295">std::unique_ptr&lt; char[]&gt;</text>
<text x="2724" y="2319.5">+ ptr</text>
<text x="2724" y="2345.5">+ operator-&gt;()</text></g>

<g id="uniqueOstream" class="k g"><rect x="3155" y="2272" width="136" height="90"/><line x1="3155" y1="2313" x2="3291" y2="2313"/><line x1="3155" y1="2337" x2="3291" y2="2337"/>
<text class="t" x="3223" y="2288"><tspan x="3223">std::unique_ptr&lt; std</tspan><tspan x="3223" dy="14.7">::ostream &gt;</tspan></text>
<text x="3166" y="2352.5">+ operator-&gt;()</text></g>

<g id="equationDisplay" class="k"><rect x="1969" y="2750" width="170" height="251"/><line x1="1969" y1="2775" x2="2139" y2="2775"/><line x1="1969" y1="2858" x2="2139" y2="2858"/>
<text class="t" x="2054" y="2766">minsky::EquationDisplay</text>
<text x="1980" y="2790.5"><tspan x="1980">+ offsx</tspan><tspan x="1980" dy="14.7">+ offsy</tspan><tspan x="1980" dy="14.7">+ m_zoomFactor</tspan><tspan x="1980" dy="14.7">- m_width</tspan><tspan x="1980" dy="14.7">- m_height</tspan></text>
<text x="1980" y="2873.5"><tspan x="1980">+ width()</tspan><tspan x="1980" dy="14.7">+ height()</tspan><tspan x="1980" dy="14.7">+ EquationDisplay()</tspan><tspan x="1980" dy="14.7">+ operator=()</tspan><tspan x="1980" dy="14.7">+ EquationDisplay()</tspan><tspan x="1980" dy="14.7">+ requestRedraw()</tspan><tspan x="1980" dy="14.7">+ hasScrollBars()</tspan><tspan x="1980" dy="14.7">- redraw()</tspan><tspan x="1980" dy="14.7">- CLASSDESC_ACCESS()</tspan></text></g>

<g id="pannableTabEq" class="k"><rect x="1764" y="3059" width="183" height="253"/><line x1="1764" y1="3099" x2="1947" y2="3099"/><line x1="1764" y1="3154" x2="1947" y2="3154"/>
<text x="1775" y="3075"><tspan x="1775">minsky::PannableTab</tspan><tspan x="1775" dy="14.7">&lt; minsky::EquationDisplay &gt;</tspan></text>
<text x="1775" y="3114.5"><tspan x="1775">- mousePressed</tspan><tspan x="1775" dy="14.7">- deltaX</tspan><tspan x="1775" dy="14.7">- deltaY</tspan></text>
<text x="1775" y="3169.5"><tspan x="1775">+ PannableTab()</tspan><tspan x="1775" dy="14.7">+ PannableTab()</tspan><tspan x="1775" dy="14.7">+ mouseDown()</tspan><tspan x="1775" dy="14.7">+ mouseUp()</tspan><tspan x="1775" dy="14.7">+ mouseMove()</tspan><tspan x="1775" dy="14.7">+ moveTo()</tspan><tspan x="1775" dy="14.7">+ position()</tspan><tspan x="1775" dy="14.7">+ zoom()</tspan><tspan x="1775" dy="14.7">+ zoomFactor()</tspan><tspan x="1775" dy="14.7">- CLASSDESC_ACCESS()</tspan></text></g>

<g id="minskyTCL" class="k"><rect x="2702" y="2742" width="181" height="267" style="fill:#bfbfbf"/><line x1="2702" y1="2766" x2="2883" y2="2766"/><line x1="2702" y1="2807" x2="2883" y2="2807"/>
<text class="t" x="2792.5" y="2758">minsky::MinskyTCL</text>
<text x="2713" y="2781.5"><tspan x="2713">+ rebuildTCLcommands</tspan><tspan x="2713" dy="14.7">+ defaultFont</tspan></text>
<text x="2713" y="2822.5"><tspan x="2713">+ getValue()</tspan><tspan x="2713" dy="14.7">+ startRecording()</tspan><tspan x="2713" dy="14.7">+ stopRecording()</tspan><tspan x="2713" dy="14.7">+ operationIcon()</tspan><tspan x="2713" dy="14.7">+ matchingTableColumns()</tspan><tspan x="2713" dy="14.7">+ registerRef()</tspan><tspan x="2713" dy="14.7">+ itemFromItemFocus()</tspan><tspan x="2713" dy="14.7">+ itemFocusFromItem()</tspan><tspan x="2713" dy="14.7">+ getItemAt()</tspan><tspan x="2713" dy="14.7">+ retypeItem()</tspan><tspan x="2713" dy="14.7">and 38 more...</tspan><tspan x="2713" dy="14.7">+ numOpArgs()</tspan><tspan x="2713" dy="14.7">- getCommandData()</tspan></text></g>
</svg>
